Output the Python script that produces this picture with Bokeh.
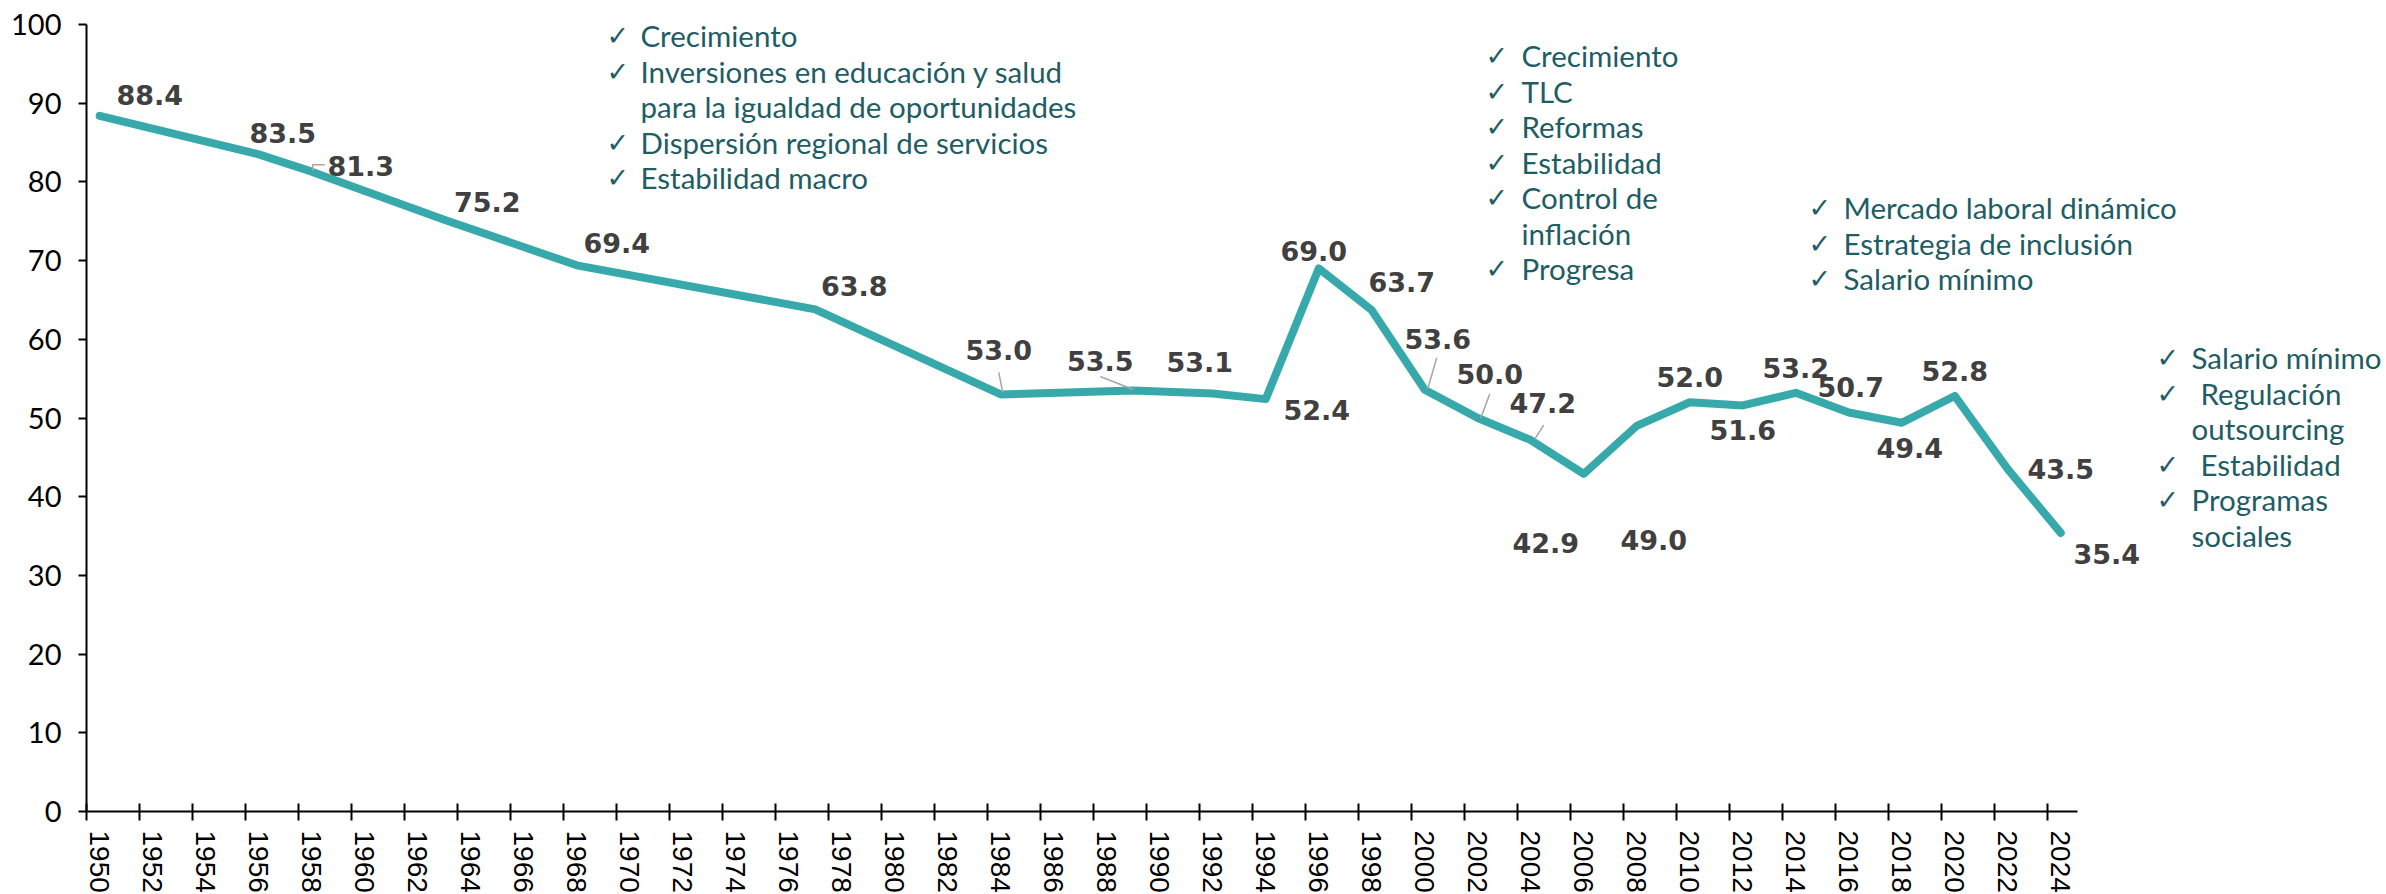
import numpy as np
from bokeh.plotting import figure
from bokeh.models import Range1d, FixedTicker, ColumnDataSource
from bokeh.core.properties import value
from bokeh.embed import file_html
from bokeh.resources import INLINE

# ---------------- data ----------------
years = [1950, 1956, 1958, 1963, 1968, 1977, 1984, 1989, 1992, 1994, 1996, 1998,
         2000, 2002, 2004, 2006, 2008, 2010, 2012, 2014, 2016, 2018, 2020, 2022, 2024]
values = [88.4, 83.5, 81.3, 75.2, 69.4, 63.8, 53.0, 53.5, 53.1, 52.4, 69.0, 63.7,
          53.6, 50.0, 47.2, 42.9, 49.0, 52.0, 51.6, 53.2, 50.7, 49.4, 52.8, 43.5, 35.4]
value_labels = [f"{v:.1f}" for v in values]
y_ticks = list(range(0, 101, 10))
x_tick_years = list(range(1950, 2025, 2))

block1 = ["Crecimiento", "Inversiones en educación y salud", "para la igualdad de oportunidades",
          "Dispersión regional de servicios", "Estabilidad macro"]
block1_checks = [True, True, False, True, True]
block2 = ["Crecimiento", "TLC", "Reformas", "Estabilidad", "Control de", "inflación", "Progresa"]
block2_checks = [True, True, True, True, True, False, True]
block3 = ["Mercado laboral dinámico", "Estrategia de  inclusión", "Salario mínimo"]
block3_checks = [True, True, True]
block4 = ["Salario mínimo", "Regulación", "outsourcing", "Estabilidad", "Programas", "sociales"]
block4_checks = [True, True, False, True, True, False]

# ---------------- layout ----------------
PX_YEAR = 26.5
PX_UNIT = 7.87
LEFT = 86          # frame left in page px
TOP = 24
FRAME_H = 787
W = 2384
FRAME_W = W - LEFT
x0 = 1949.5
x1 = x0 + FRAME_W / PX_YEAR
AX_END = x0 + (2077 - LEFT) / PX_YEAR

def fx(px):   # page px -> data x
    return x0 + (px - LEFT) / PX_YEAR

def fy(py):   # page px -> data y
    return (TOP + FRAME_H - py) / PX_UNIT

TEAL = "#37A9AB"
DARK = "#1E5D64"

p = figure(frame_width=FRAME_W, frame_height=FRAME_H, x_range=Range1d(x0, x1),
           y_range=Range1d(0, 100), output_backend="svg", toolbar_location=None,
           min_border_left=LEFT, min_border_top=TOP, min_border_right=0, min_border_bottom=0)
p.outline_line_color = None
p.xgrid.visible = False
p.ygrid.visible = False
p.background_fill_color = "white"
p.border_fill_color = "white"

# y axis
ya = p.yaxis[0]
ya.ticker = FixedTicker(ticks=y_ticks)
ya.axis_line_width = 2
ya.axis_line_color = "black"
ya.major_tick_out = 8
ya.major_tick_in = 0
ya.major_tick_line_width = 2
ya.minor_tick_line_color = None
ya.major_label_text_font = "Lato"
ya.major_label_text_font_size = "29px"
ya.major_label_text_color = "black"
ya.major_label_standoff = 17

# x axis
xa = p.xaxis[0]
xa.ticker = FixedTicker(ticks=x_tick_years, minor_ticks=[y - 0.5 for y in x_tick_years])
xa.bounds = (x0, AX_END)
xa.axis_line_width = 2
xa.axis_line_color = "black"
xa.major_tick_line_color = None
xa.major_tick_out = 9
xa.major_tick_in = 0
xa.minor_tick_out = 9
xa.minor_tick_in = 8
xa.minor_tick_line_width = 2
xa.minor_tick_line_color = "black"
xa.major_label_orientation = "vertical"
xa.major_label_text_font = "Liberation Sans"
xa.major_label_text_font_size = "28px"
xa.major_label_text_color = "black"
xa.major_label_standoff = 10

# line
src = ColumnDataSource(dict(x=years, y=values, label=value_labels))
p.line("x", "y", source=src, line_color=TEAL, line_width=8, line_join="round", line_cap="round")

# data label offsets (screen px; +dy is down)
lab_dx = [50, 24, 49, 43, 40, 39, -2, -33, -13, 51, -5, 30, 13, 12, 12, -38, 17, 0, 0, 0, 2, 8, 0, 53, 46]
lab_dy = [-21, -21, -6, -18, -22, -23, -44, -29, -32, 11, -17, -28, -51, -44, -37, 69, 114, -25, 25, -25, -25, 25, -25, 0, 21]
src.data["dx"] = lab_dx
src.data["dy"] = lab_dy
p.text("x", "y", text="label", x_offset="dx", y_offset="dy", source=src,
       text_font=value("DejaVu Sans"), text_font_style="bold", text_font_size="27px",
       text_color="#404040", text_align="center", text_baseline="middle")

# leader lines (page px offsets relative to the labelled point)
leader_idx = [2, 6, 7, 12, 13, 14]
leader_off = {2: [(13, -7), (1, -7), (1, -1)],
              6: [(-2, -22), (2, -2)],
              7: [(-33, -14), (0, -1)],
              12: [(12, -32), (3, -1)],
              13: [(12, -24), (3, 0)],
              14: [(13, -15), (4, -1)]}
lxs, lys = [], []
for i in leader_idx:
    lxs.append([years[i] + dx / PX_YEAR for dx, dy in leader_off[i]])
    lys.append([values[i] - dy / PX_UNIT for dx, dy in leader_off[i]])
p.multi_line(lxs, lys, line_color="#A6A6A6", line_width=1.5)

# annotation blocks
def add_block(lines, checks, check_px, text_px, first_py, spacing=35.5, indent=None):
    tx, ty, tt, cx, cy = [], [], [], [], []
    for k, (t, c) in enumerate(zip(lines, checks)):
        py = first_py + k * spacing
        extra = indent[k] if indent else 0
        tx.append(fx(text_px + extra)); ty.append(fy(py)); tt.append(t)
        if c:
            cx.append(fx(check_px)); cy.append(fy(py))
    p.text(tx, ty, text=tt, text_font=value("Lato"), text_font_size="29.5px",
           text_color=DARK, text_align="left", text_baseline="middle")
    p.text(cx, cy, text=["✓"] * len(cx), text_font=value("DejaVu Sans"), text_font_size="27px",
           text_font_style="bold", text_color=DARK, text_align="left", text_baseline="middle")

add_block(block1, block1_checks, 606, 640, 35)
add_block(block2, block2_checks, 1485, 1521, 55)
add_block(block3, block3_checks, 1808, 1843, 207)
add_block(block4, block4_checks, 2156, 2191, 357, indent=[0, 9, 0, 9, 0, 0])

open("out.html", "w").write(file_html(p, INLINE))
